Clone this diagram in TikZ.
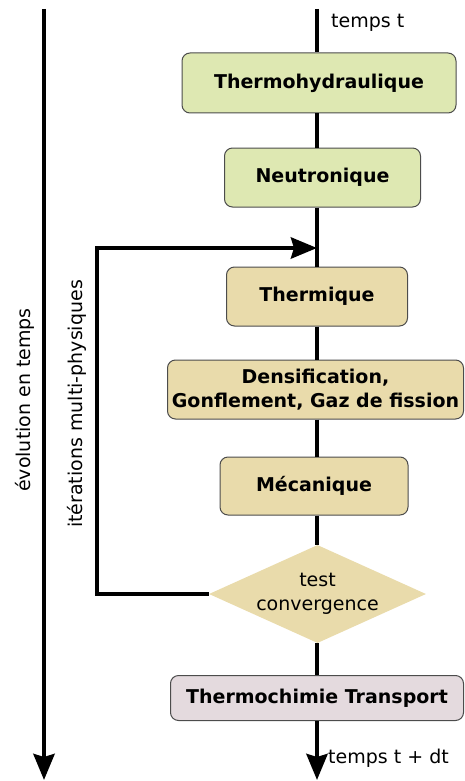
\documentclass[tikz,border=0pt]{standalone}
\usepackage{xcolor}
\usepackage{fontspec}
\setmainfont{DejaVu Sans}
\usepackage{tikz}
\usetikzlibrary{shapes.geometric,arrows.meta}

\definecolor{vert}{RGB}{222,232,178}
\definecolor{beige}{RGB}{233,219,171}
\definecolor{mauve}{RGB}{228,218,222}

\newcommand{\taille}{\fontsize{19}{24}\selectfont}

\tikzset{
  boite/.style={draw=black!70, line width=1pt, rounded corners=8pt,
    font=\taille\bfseries, align=center, inner sep=0pt},
  trait/.style={line width=4.4pt},
  fleche/.style={line width=4.4pt, -{Stealth[width=21pt,length=26pt,inset=3pt]}},
}

\begin{document}
\begin{tikzpicture}[x=1pt, y=-1pt, font=\taille]
            \useasboundingbox (0,0) rectangle (464,781);

            \coordinate (haut) at (317,9);
            \coordinate (bas) at (317,780);
            \coordinate (retour) at (317,248);
            \coordinate (coin) at (97,594);
            \coordinate (evohaut) at (44,9);
            \coordinate (evobas) at (44,780);

            \node[boite, fill=vert, minimum width=274pt, minimum height=60pt] (thermo) at (319,83) {Thermohydraulique};
            \node[boite, fill=vert, minimum width=196pt, minimum height=59pt] (neutro) at (322.5,177.5) {Neutronique};
            \node[boite, fill=beige, minimum width=181pt, minimum height=59pt] (thermique) at (317,296.5) {Thermique};
            \node[boite, fill=beige, minimum width=296pt, minimum height=59pt] (dens) at (315.5,389.5) {Densification,\\Gonflement, Gaz de fission};
            \node[boite, fill=beige, minimum width=188pt, minimum height=58pt] (meca) at (314,486) {Mécanique};
            \node[diamond, fill=beige, align=center, inner sep=0pt, aspect=2.2,
                  minimum width=217pt, minimum height=98pt] (test) at (317.5,594) {test\\convergence};
            \node[boite, fill=mauve, minimum width=293pt, minimum height=45pt] (transport) at (317,698) {Thermochimie Transport};

            \draw[trait] (haut) -- (haut |- thermo.north);
            \draw[trait] (haut |- thermo.south) -- (haut |- neutro.north);
            \draw[trait] (haut |- neutro.south) -- (haut |- thermique.north);
            \draw[trait] (haut |- thermique.south) -- (haut |- dens.north);
            \draw[trait] (haut |- dens.south) -- (haut |- meca.north);
            \draw[trait] (haut |- meca.south) -- (haut |- test.north);
            \draw[trait] (haut |- test.south) -- (haut |- transport.north);
            \draw[fleche] (haut |- transport.south) -- (bas);

            % boucle
            \draw[fleche] (test.west) -- (coin) |- (retour);

            \draw[fleche] (evohaut) -- (evobas);

            \node[anchor=base west, inner sep=0pt] (tt) at (331,28) {temps t};
            \node[anchor=base west, inner sep=0pt] (ttdt) at (328,763) {temps t + dt};
            \node[rotate=90, inner sep=0pt] (evo) at (25,400) {évolution en temps};
            \node[rotate=90, inner sep=0pt] (iter) at (77,404) {itérations multi-physiques};
\end{tikzpicture}
\end{document}
